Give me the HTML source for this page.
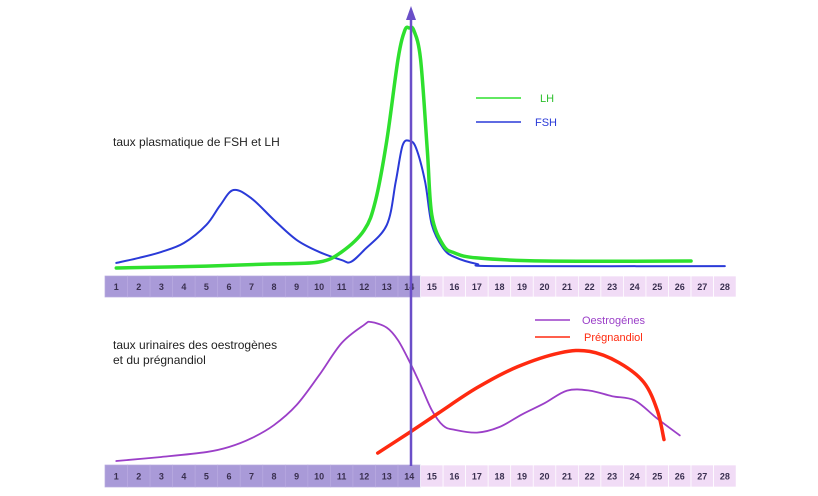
<!DOCTYPE html>
<html><head><meta charset="utf-8"><style>
html,body{margin:0;padding:0;background:#fff;width:818px;height:496px;overflow:hidden}
text{font-family:"Liberation Sans",sans-serif}
</style></head><body>
<svg id="c" width="818" height="496" viewBox="0 0 818 496">
<g id="bands"></g>
<g id="lines"></g>
<text x="113" y="146" font-size="12" fill="#222">taux plasmatique de FSH et LH</text>
<text x="113" y="349" font-size="12" fill="#222">taux urinaires des oestrogènes</text>
<text x="113" y="364" font-size="12" fill="#222">et du prégnandiol</text>
<g><line x1="476" y1="98" x2="521" y2="98" stroke="#2ee02e" stroke-width="1.5"/><text x="540" y="102" font-size="11" fill="#2ec02e">LH</text></g>
<g><line x1="476" y1="122" x2="521" y2="122" stroke="#2a3ad8" stroke-width="1.5"/><text x="535" y="126" font-size="11" fill="#2a3ad8">FSH</text></g>
<g><line x1="535" y1="320" x2="570" y2="320" stroke="#9b3fc8" stroke-width="1.5"/><text x="582" y="324" font-size="11" fill="#9b3fc8">Oestrogénes</text></g>
<g><line x1="535" y1="337" x2="570" y2="337" stroke="#ff2a10" stroke-width="1.5"/><text x="584" y="341" font-size="11" fill="#ff2a10">Prégnandiol</text></g>
<line x1="411" y1="18" x2="411" y2="466" stroke="#6a4fc8" stroke-width="2.5"/>
<polygon points="411,6 406,20 416,20" fill="#6a4fc8"/>
</svg>
<script>
const days = [1,2,3,4,5,6,7,8,9,10,11,12,13,14,15,16,17,18,19,20,21,22,23,24,25,26,27,28];
const lhDays = [1,5,8,10,11,12,12.5,13,13.5,13.8,14,14.2,14.5,14.8,15,15.5,16,17,20,26.5];
const lhVals = [0,0.8,1.7,2.5,6.7,15.8,28,53,87,99,100,99,87,49,22,9.6,6.3,4.2,2.9,2.9];
const fshDays = [1,2,3,4,5,5.6,6.2,7,8,9,10,11,11.4,12,13,13.4,13.7,14,14.3,14.7,15,15.5,16,17,18,28];
const fshVals = [2.1,4.2,6.7,10.4,18,26,32.5,29,20,11.7,6.7,3.3,2.5,7.5,17.9,36,51,53,50,36,18,8.3,4.6,1.7,0.8,0.8];
const oeDays = [1,3,5,6,7,8,9,10,11,12,12.3,13,13.5,14,14.5,15,15.5,16,17,18,19,20,21,22,23,24,25,26];
const oeVals = [0.7,3.6,7.1,10.7,17,26.4,40.7,62,85,98,100,96,87,72,55,37,26,23,21,25,34,42,51,51,47,44,31,19];
const prDays = [12.6,14,15.3,17,18.8,20.7,22,23.3,24.4,25,25.3];
const prVals = [6.4,21,35,53,68,78,79,71,57,37,16];

const NS="http://www.w3.org/2000/svg";
const bands=document.getElementById('bands');
const lines=document.getElementById('lines');
const X0=105, CW=22.54;
const xs=d=>X0+(d-0.5)*CW;
const yTop=v=>268-v*2.4;
const yBot=v=>462-v*1.4;

function drawBand(y,h,prefix){
  days.forEach(d=>{
    const r=document.createElementNS(NS,'rect');
    r.setAttribute('x',X0+(d-1)*CW);r.setAttribute('y',y);
    r.setAttribute('width',CW);r.setAttribute('height',h);
    r.setAttribute('fill',d<=14?'#a99ad8':'#f1dcf6');
    r.setAttribute('stroke',d<=14?'#b8aae0':'#fff');r.setAttribute('stroke-width','0.7');
    
    
    bands.appendChild(r);
    const t=document.createElementNS(NS,'text');
    t.setAttribute('x',xs(d));t.setAttribute('y',y+h/2+3.5);
    t.setAttribute('text-anchor','middle');t.setAttribute('font-size','9');
    t.setAttribute('font-weight','bold');t.setAttribute('fill','#3a3050');
    t.textContent=d;
    
    
    bands.appendChild(t);
  });
}
drawBand(276,21,'top');
drawBand(465,22,'bottom');

function smooth(pts){
  let d='M'+pts[0][0]+','+pts[0][1];
  for(let i=0;i<pts.length-1;i++){
    const p0=pts[i-1]||pts[i],p1=pts[i],p2=pts[i+1],p3=pts[i+2]||p2;
    const c1=[p1[0]+(p2[0]-p0[0])/6,p1[1]+(p2[1]-p0[1])/6];
    const c2=[p2[0]-(p3[0]-p1[0])/6,p2[1]-(p3[1]-p1[1])/6];
    d+=` C${c1[0]},${c1[1]} ${c2[0]},${c2[1]} ${p2[0]},${p2[1]}`;
  }
  return d;
}
function drawSeries(ds,vs,ys,color,w,name){
  const p=document.createElementNS(NS,'path');
  p.setAttribute('d',smooth(ds.map((d,i)=>[xs(d),ys(vs[i])])));
  p.setAttribute('fill','none');p.setAttribute('stroke',color);
  p.setAttribute('stroke-width',w);p.setAttribute('stroke-linecap','round');p.setAttribute('stroke-linejoin','round');
  
  
  lines.appendChild(p);
}
drawSeries(fshDays,fshVals,yTop,'#2a3ad8',2,'fsh-line');
drawSeries(lhDays,lhVals,yTop,'#2ee02e',3.5,'lh-line');
drawSeries(oeDays,oeVals,yBot,'#9b3fc8',1.8,'oestrogenes-line');
drawSeries(prDays,prVals,yBot,'#ff2a10',3.5,'pregnandiol-line');
</script>
</body></html>
